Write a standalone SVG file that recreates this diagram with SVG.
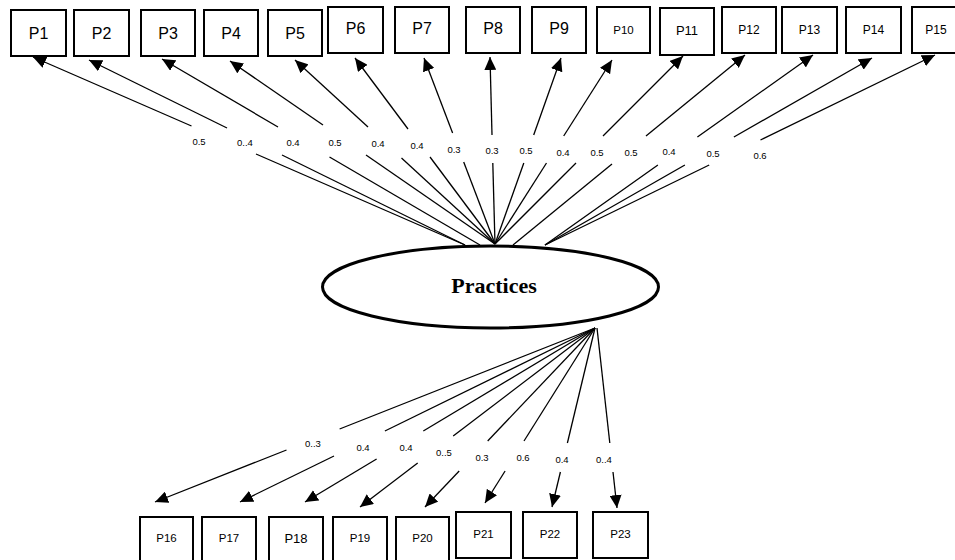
<svg xmlns="http://www.w3.org/2000/svg" width="955" height="560" viewBox="0 0 955 560">
<style>
.box{fill:#fff;stroke:#000;stroke-width:2}
.bt{font-family:"Liberation Sans",Arial,sans-serif;fill:#000;text-anchor:middle}
.ln{stroke:#000;stroke-width:1.3;fill:none}
.lb{font-family:"Liberation Sans",Arial,sans-serif;font-size:9.5px;fill:#000;text-anchor:middle}
</style>
<defs>
<marker id="ah" markerUnits="userSpaceOnUse" markerWidth="13" markerHeight="12" refX="13" refY="6" orient="auto">
<path d="M0,0 L13,6 L0,12 z" fill="#000"/>
</marker>
</defs>
<rect width="955" height="560" fill="#fff"/>

<g id="connectors">
<!-- top: upper segments with arrowheads -->
<line class="ln" x1="191.5" y1="126" x2="33" y2="57" marker-end="url(#ah)"/>
<line class="ln" x1="465" y1="245" x2="256" y2="154"/>
<line class="ln" x1="227" y1="128" x2="89" y2="60" marker-end="url(#ah)"/>
<line class="ln" x1="465" y1="245" x2="282" y2="155"/>
<line class="ln" x1="278" y1="127" x2="162" y2="59" marker-end="url(#ah)"/>
<line class="ln" x1="480" y1="245" x2="329.5" y2="157"/>
<line class="ln" x1="323" y1="125" x2="230" y2="61" marker-end="url(#ah)"/>
<line class="ln" x1="495" y1="244" x2="366" y2="155"/>
<line class="ln" x1="368" y1="127" x2="295" y2="60" marker-end="url(#ah)"/>
<line class="ln" x1="495" y1="244" x2="401.5" y2="158"/>
<line class="ln" x1="408" y1="129" x2="355" y2="58" marker-end="url(#ah)"/>
<line class="ln" x1="495" y1="244" x2="430" y2="157"/>
<line class="ln" x1="452.6" y1="133" x2="424" y2="58" marker-end="url(#ah)"/>
<line class="ln" x1="495" y1="244" x2="463.7" y2="162"/>
<line class="ln" x1="492" y1="135" x2="490" y2="57" marker-end="url(#ah)"/>
<line class="ln" x1="495" y1="244" x2="492.8" y2="163"/>
<line class="ln" x1="533.7" y1="135" x2="561" y2="58" marker-end="url(#ah)"/>
<line class="ln" x1="495" y1="244" x2="523.8" y2="163"/>
<line class="ln" x1="563.7" y1="136" x2="612" y2="60" marker-end="url(#ah)"/>
<line class="ln" x1="495" y1="244" x2="546.5" y2="163"/>
<line class="ln" x1="603" y1="136" x2="683" y2="56" marker-end="url(#ah)"/>
<line class="ln" x1="495" y1="244" x2="576" y2="163"/>
<line class="ln" x1="646" y1="136" x2="745" y2="55" marker-end="url(#ah)"/>
<line class="ln" x1="513" y1="245" x2="612" y2="164"/>
<line class="ln" x1="697.4" y1="137" x2="813" y2="55" marker-end="url(#ah)"/>
<line class="ln" x1="545" y1="245" x2="657.9" y2="165"/>
<line class="ln" x1="733.9" y1="137" x2="872" y2="58" marker-end="url(#ah)"/>
<line class="ln" x1="545" y1="245" x2="684.9" y2="165"/>
<line class="ln" x1="760.5" y1="140" x2="935" y2="55" marker-end="url(#ah)"/>
<line class="ln" x1="545" y1="245" x2="709.2" y2="165"/>

<!-- bottom -->
<line class="ln" x1="595" y1="328" x2="339.6" y2="429"/>
<line class="ln" x1="286.5" y1="450" x2="155" y2="502" marker-end="url(#ah)"/>
<line class="ln" x1="595" y1="328" x2="384.9" y2="431"/>
<line class="ln" x1="334" y1="456" x2="240" y2="502" marker-end="url(#ah)"/>
<line class="ln" x1="595" y1="328" x2="423.3" y2="431"/>
<line class="ln" x1="376.6" y1="459" x2="305" y2="502" marker-end="url(#ah)"/>
<line class="ln" x1="595" y1="328" x2="453.2" y2="436"/>
<line class="ln" x1="417.7" y1="463" x2="360" y2="507" marker-end="url(#ah)"/>
<line class="ln" x1="595" y1="328" x2="487.7" y2="441"/>
<line class="ln" x1="459.2" y1="471" x2="425" y2="507" marker-end="url(#ah)"/>
<line class="ln" x1="595" y1="328" x2="524" y2="441"/>
<line class="ln" x1="505.1" y1="471" x2="485" y2="503" marker-end="url(#ah)"/>
<line class="ln" x1="595" y1="328" x2="567.4" y2="443"/>
<line class="ln" x1="560.4" y1="472" x2="552" y2="507" marker-end="url(#ah)"/>
<line class="ln" x1="597" y1="328" x2="609.8" y2="443"/>
<line class="ln" x1="613" y1="472" x2="617" y2="508" marker-end="url(#ah)"/>

<!-- labels -->
<text class="lb" x="199" y="144.5">0.5</text>
<text class="lb" x="245" y="145.5">0..4</text>
<text class="lb" x="293" y="145.5">0.4</text>
<text class="lb" x="335" y="145.5">0.5</text>
<text class="lb" x="378" y="146.5">0.4</text>
<text class="lb" x="417" y="148.5">0.4</text>
<text class="lb" x="454" y="152.5">0.3</text>
<text class="lb" x="492" y="153.5">0.3</text>
<text class="lb" x="526" y="153.5">0.5</text>
<text class="lb" x="563" y="155.5">0.4</text>
<text class="lb" x="597" y="155.5">0.5</text>
<text class="lb" x="631" y="155.5">0.5</text>
<text class="lb" x="669" y="154.5">0.4</text>
<text class="lb" x="713" y="156.5">0.5</text>
<text class="lb" x="760" y="158.5">0.6</text>

<text class="lb" x="313" y="446.5">0..3</text>
<text class="lb" x="363" y="450.5">0.4</text>
<text class="lb" x="406" y="450.5">0.4</text>
<text class="lb" x="444" y="455.5">0..5</text>
<text class="lb" x="482" y="460.5">0.3</text>
<text class="lb" x="523" y="460.5">0.6</text>
<text class="lb" x="562" y="462.5">0.4</text>
<text class="lb" x="604" y="462.5">0..4</text>
</g>

<g id="practices">
<ellipse cx="490.5" cy="287" rx="168" ry="41" fill="#fff" stroke="#000" stroke-width="3"/>
<text x="494" y="293" font-family="'Liberation Serif','Times New Roman',serif" font-weight="bold" font-size="22" text-anchor="middle">Practices</text>
</g>

<g id="P1"><rect class="box" x="11" y="10" width="55" height="46"/><text class="bt" x="38.5" y="39" font-size="16">P1</text></g>
<g id="P2"><rect class="box" x="74" y="10" width="55" height="46"/><text class="bt" x="101.5" y="39" font-size="16">P2</text></g>
<g id="P3"><rect class="box" x="141" y="10" width="54" height="46"/><text class="bt" x="168" y="39" font-size="16">P3</text></g>
<g id="P4"><rect class="box" x="204" y="10" width="54" height="46"/><text class="bt" x="231" y="39" font-size="16">P4</text></g>
<g id="P5"><rect class="box" x="268" y="10" width="54" height="46"/><text class="bt" x="295" y="39" font-size="16">P5</text></g>
<g id="P6"><rect class="box" x="328" y="7" width="55" height="46"/><text class="bt" x="355.5" y="34" font-size="16">P6</text></g>
<g id="P7"><rect class="box" x="395" y="7" width="54" height="46"/><text class="bt" x="422" y="34" font-size="16">P7</text></g>
<g id="P8"><rect class="box" x="466" y="7" width="54" height="46"/><text class="bt" x="493" y="34" font-size="16">P8</text></g>
<g id="P9"><rect class="box" x="532" y="7" width="54" height="46"/><text class="bt" x="559" y="34" font-size="16">P9</text></g>
<g id="P10"><rect class="box" x="597" y="7" width="53" height="46"/><text class="bt" x="623.5" y="33.5" font-size="11.5">P10</text></g>
<g id="P11"><rect class="box" x="660" y="8" width="54" height="47"/><text class="bt" x="687" y="35" font-size="13">P11</text></g>
<g id="P12"><rect class="box" x="722" y="7" width="54" height="46"/><text class="bt" x="749" y="33.5" font-size="12">P12</text></g>
<g id="P13"><rect class="box" x="782" y="7" width="55" height="46"/><text class="bt" x="809.5" y="33.5" font-size="12">P13</text></g>
<g id="P14"><rect class="box" x="846" y="7" width="55" height="46"/><text class="bt" x="873.5" y="33.5" font-size="12">P14</text></g>
<g id="P15"><rect class="box" x="912" y="7" width="55" height="46"/><text class="bt" x="936" y="33.5" font-size="12">P15</text></g>

<g id="P16"><rect class="box" x="140" y="517" width="53" height="46"/><text class="bt" x="166.5" y="542" font-size="11.5">P16</text></g>
<g id="P17"><rect class="box" x="202" y="517" width="54" height="46"/><text class="bt" x="229" y="542" font-size="11.5">P17</text></g>
<g id="P18"><rect class="box" x="269" y="517" width="54" height="46"/><text class="bt" x="296" y="543" font-size="13">P18</text></g>
<g id="P19"><rect class="box" x="333" y="517" width="54" height="46"/><text class="bt" x="360" y="542" font-size="11.5">P19</text></g>
<g id="P20"><rect class="box" x="396" y="517" width="53" height="46"/><text class="bt" x="422.5" y="542" font-size="11.5">P20</text></g>
<g id="P21"><rect class="box" x="456" y="512" width="55" height="46"/><text class="bt" x="483.5" y="538" font-size="11.5">P21</text></g>
<g id="P22"><rect class="box" x="523" y="512" width="54" height="46"/><text class="bt" x="550" y="538" font-size="11.5">P22</text></g>
<g id="P23"><rect class="box" x="593" y="512" width="55" height="46"/><text class="bt" x="620.5" y="538" font-size="11.5">P23</text></g>
</svg>
